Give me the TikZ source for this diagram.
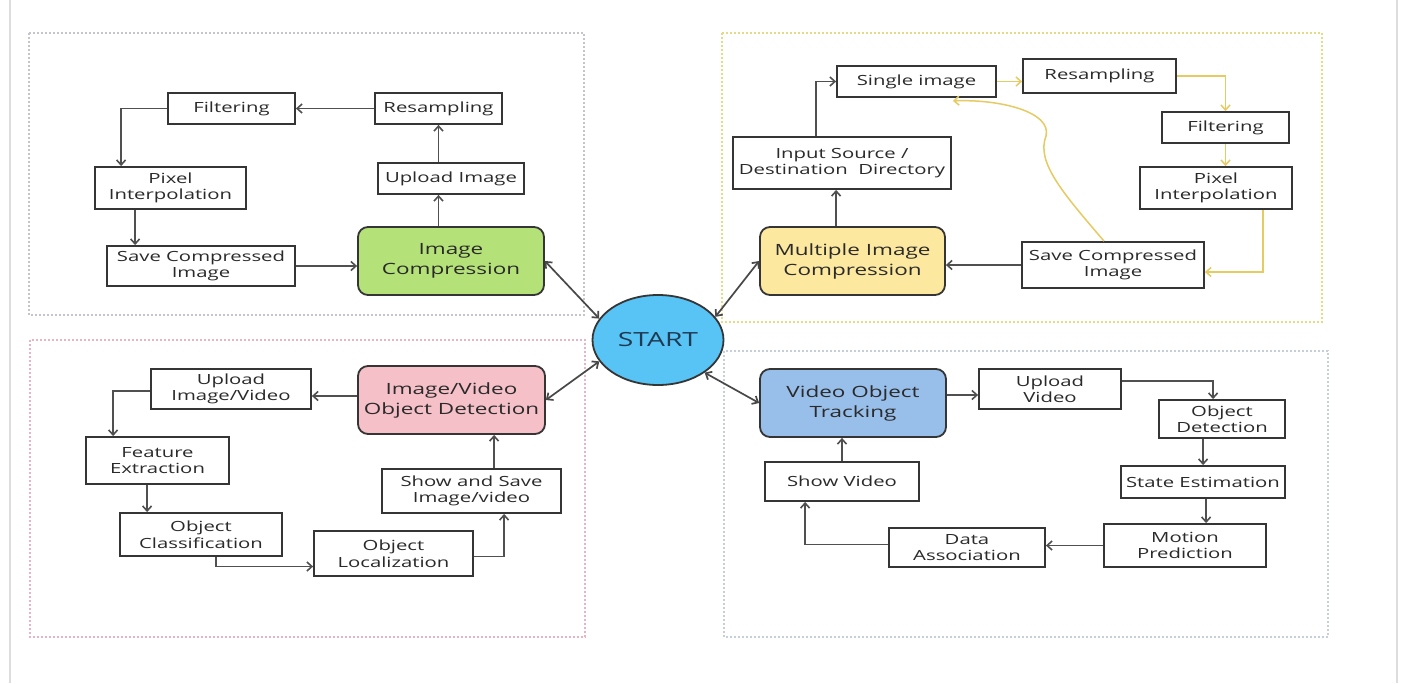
\documentclass[tikz,border=0pt]{standalone}
\usepackage{fontspec}
\setmainfont{Open Sans}[FakeStretch=1.45]
\usetikzlibrary{arrows.meta,calc,shapes.geometric}
\definecolor{boxc}{HTML}{353535}
\definecolor{txtc}{HTML}{2A2A2A}
\definecolor{arrc}{HTML}{505050}
\definecolor{yarrc}{HTML}{E5CB62}
\definecolor{gfill}{RGB}{180,226,120}
\definecolor{yfill}{RGB}{253,232,160}
\definecolor{pfill}{RGB}{245,192,200}
\definecolor{bfill}{RGB}{152,190,234}
\definecolor{sfill}{RGB}{88,196,245}
\definecolor{stxt}{HTML}{1F3A52}
\definecolor{frgray}{HTML}{C4C4CC}
\definecolor{fryel}{HTML}{E6DA84}
\definecolor{frpink}{HTML}{E8B4C2}
\definecolor{frblue}{HTML}{C6CEDC}
\definecolor{pageln}{HTML}{DDDDDD}
\newcommand\sfz{\fontsize{14}{16.5}\selectfont}
\newcommand\mfz{\fontsize{15.5}{20}\selectfont}
\tikzset{
  stepbox/.style={draw=boxc, line width=1.8pt, fill=white, text=txtc, align=center, inner sep=1pt, font=\sfz},
  mainbox/.style={draw=boxc, line width=1.8pt, rounded corners=10pt, text=txtc, align=center, inner sep=1pt, font=\mfz},
  arr/.style={draw=arrc, line width=1.6pt, -{Straight Barb[length=5pt,width=9pt]}},
  yarr/.style={draw=yarrc, line width=1.5pt, -{Straight Barb[length=5pt,width=9pt]}},
  darr/.style={draw=arrc!90!black, line width=1.7pt, {Straight Barb[length=5pt,width=9pt]}-{Straight Barb[length=5pt,width=9pt]}},
  frame/.style={line width=1.5pt, dash pattern=on 2pt off 2pt},
}
\begin{document}
\begin{tikzpicture}[x=1pt,y=-1pt]
\useasboundingbox (0,0) rectangle (1402,683);
\fill[white] (0,0) rectangle (1402,683);
% page edge lines
\draw[pageln, line width=2.5pt] (10,0) -- (10,683);
\draw[pageln, line width=2.5pt] (1397,0) -- (1397,683);
% frames
\draw[frame, frgray] (29,33) rectangle (584,315);
\draw[frame, fryel] (722,33) rectangle (1322,322);
\draw[frame, frpink] (30,340) rectangle (585,637);
\draw[frame, frblue] (724,351) rectangle (1328,637);

% START
\node[ellipse, draw=boxc, line width=1.8pt, fill=sfill, minimum width=131pt, minimum height=90pt, inner sep=0pt, text=stxt, font=\fontsize{19.5}{22}\selectfont] (start) at (658,340) {START};

% ---- top-left: Image Compression
\node[stepbox, minimum width=127pt, minimum height=31pt] (tlFilt) at (231.5,108.5) {Filtering};
\node[stepbox, minimum width=127pt, minimum height=31pt] (tlRes) at (438.5,108.5) {Resampling};
\node[stepbox, minimum width=146pt, minimum height=31pt] (tlUp) at (451,178.5) {Upload Image};
\node[stepbox, minimum width=151pt, minimum height=42pt] (tlPix) at (170.5,188) {Pixel\\Interpolation};
\node[stepbox, minimum width=188pt, minimum height=40pt] (tlSave) at (201,266) {Save Compressed\\Image};
\node[mainbox, fill=gfill, minimum width=186pt, minimum height=68pt] (ic) at (451,261) {Image\\Compression};

\draw[arr] (tlRes.west) -- (tlFilt.east);
\draw[arr] (tlFilt.west) -| ($(tlPix.north west)+(27,0)$);
\draw[arr] ($(tlPix.south west)+(41,0)$) -- ($(tlSave.north west)+(29,0)$);
\draw[arr] (tlSave.east) -- (tlSave.east -| ic.west);
\draw[arr] (ic.north -| tlRes.center) -- (tlUp.south -| tlRes.center);
\draw[arr] (tlUp.north -| tlRes.center) -- (tlRes.south);

% ---- top-right: Multiple Image Compression
\node[stepbox, minimum width=159pt, minimum height=31pt] (single) at (916.5,81.5) {Single image};
\node[stepbox, minimum width=153pt, minimum height=34pt] (trRes) at (1099.5,76) {Resampling};
\node[stepbox, minimum width=127pt, minimum height=31pt] (trFilt) at (1225.5,127.5) {Filtering};
\node[stepbox, minimum width=152pt, minimum height=42pt] (trPix) at (1216,188) {Pixel\\Interpolation};
\node[stepbox, minimum width=182pt, minimum height=46pt] (trSave) at (1113,265) {Save Compressed\\Image};
\node[stepbox, minimum width=218pt, minimum height=52pt] (inSrc) at (842,163) {Input Source /\\Destination~ Directory};
\node[mainbox, fill=yfill, minimum width=185pt, minimum height=68pt] (mic) at (852.5,261) {Multiple Image\\Compression};

\draw[arr] (mic.north -| single.west) -- (inSrc.south -| single.west);
\draw[arr] ($(inSrc.north west)+(84,0)$) |- (single.west);
\draw[yarr] (single.east) -- (single.east -| trRes.west);
\draw[yarr] (trRes.east) -| (trFilt.north);
\draw[yarr] (trFilt.south) -- (trFilt.south |- trPix.north);
\draw[yarr] ($(trPix.south west)+(124,0)$) |- ($(trSave.east)+(0,7)$);
\draw[yarr] ($(trSave.north)+(-9,0)$) .. controls (1062,192) and (1036,162) .. (1046,136)
   .. controls (1052,112) and (1000,99) .. ($(single.south east)+(-44,3)$);
\draw[arr] (trSave.west) -- (trSave.west -| mic.east);

% ---- bottom-left: Image/Video Object Detection
\node[stepbox, minimum width=160pt, minimum height=40pt] (blUp) at (231,389) {Upload\\Image/Video};
\node[mainbox, fill=pfill, minimum width=187pt, minimum height=68pt] (ivod) at (451.5,400) {Image/Video\\Object Detection};
\node[stepbox, minimum width=143pt, minimum height=47pt] (blFeat) at (157.5,460.5) {Feature\\Extraction};
\node[stepbox, minimum width=162pt, minimum height=43pt] (blCls) at (201,534.5) {Object\\Classification};
\node[stepbox, minimum width=159pt, minimum height=45pt] (blLoc) at (393.5,553.5) {Object\\Localization};
\node[stepbox, minimum width=179pt, minimum height=44pt] (blShow) at (471.5,491) {Show and Save\\Image/video};

\draw[arr] ($(ivod.west)+(0,-4)$) -- ($(ivod.west -| blUp.east)+(0,-4)$);
\draw[arr] ($(blUp.west)+(0,2)$) -| ($(blFeat.north west)+(28,0)$);
\draw[arr] ($(blFeat.south west)+(62,0)$) -- ($(blCls.north west)+(28,0)$);
\draw[arr] ($(blCls.south west)+(97,0)$) |- ($(blLoc.west)+(0,13)$);
\draw[arr] ($(blLoc.east)+(0,3)$) -| ($(blShow.south west)+(123,0)$);
\draw[arr] ($(blShow.north west)+(113,0)$) -- ($(ivod.south west)+(137,0)$);

% ---- bottom-right: Video Object Tracking
\node[mainbox, fill=bfill, minimum width=186pt, minimum height=68pt] (vot) at (853,403) {Video Object\\Tracking};
\node[stepbox, minimum width=142pt, minimum height=40pt] (brUp) at (1050,389) {Upload\\Video};
\node[stepbox, minimum width=126pt, minimum height=38pt] (brDet) at (1222,419) {Object\\Detection};
\node[stepbox, minimum width=164pt, minimum height=32pt] (brState) at (1203,482) {State Estimation};
\node[stepbox, minimum width=162pt, minimum height=43pt] (brMot) at (1185,545.5) {Motion\\Prediction};
\node[stepbox, minimum width=156pt, minimum height=39pt] (brData) at (967,547.5) {Data\\Association};
\node[stepbox, minimum width=154pt, minimum height=39pt] (brShow) at (842,481.5) {Show Video};

\draw[arr] ($(vot.east)+(0,-8)$) -- ($(vot.east -| brUp.west)+(0,-8)$);
\draw[arr] ($(brUp.east)+(0,-8)$) -| ($(brDet.north west)+(55,0)$);
\draw[arr] ($(brDet.south west)+(45,0)$) -- ($(brState.north west)+(83,0)$);
\draw[arr] ($(brState.south west)+(86,0)$) -- ($(brMot.north west)+(103,0)$);
\draw[arr] (brMot.west) -- (brMot.west -| brData.east);
\draw[arr] ($(brData.west)+(0,-3)$) -| ($(brShow.south west)+(41,0)$);
\draw[arr] (brShow.north) -- (brShow.north |- vot.south);

% ---- START links
\draw[darr] (ic.east) -- (start.160);
\draw[darr] (start.22) -- (mic.west);
\draw[darr] (ivod.east) -- (start.200);
\draw[darr] (start.-35) -- (vot.west);
\end{tikzpicture}
\end{document}
